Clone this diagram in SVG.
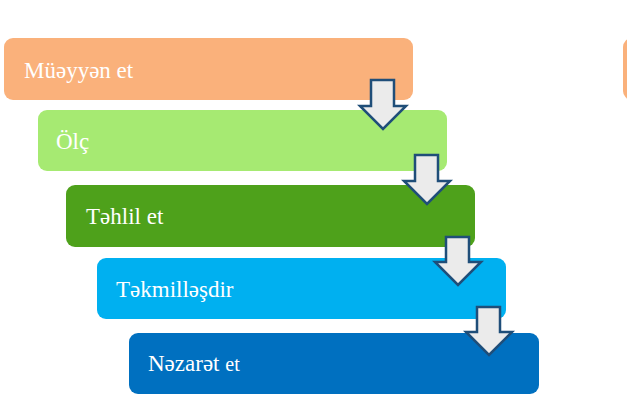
<svg xmlns="http://www.w3.org/2000/svg" width="627" height="405" viewBox="0 0 627 405">
<style>
text{font-family:"Liberation Serif","Times New Roman",serif;font-size:23px;fill:#fff}
.ar{fill:#ebebeb;stroke:#1f4e79;stroke-width:2.5;stroke-linejoin:miter}
</style>
<rect width="627" height="405" fill="#fff"/>
<g id="n1"><rect x="4" y="38" width="409" height="62" rx="9" fill="#fab17b"/><text x="24" y="78">Müəyyən et</text></g>
<g id="n1b"><rect x="623" y="38" width="20" height="62" rx="9" fill="#fab17b"/></g>
<g id="n2"><rect x="38" y="110" width="409" height="61" rx="9" fill="#a6ea72"/><text x="56" y="149">Ölç</text></g>
<g id="n3"><rect x="66" y="185" width="409" height="62" rx="9" fill="#4ea11b"/><text x="86" y="224">Təhlil et</text></g>
<g id="n4"><rect x="97" y="258" width="409" height="61" rx="9" fill="#00b0f0"/><text x="116" y="297">Təkmilləşdir</text></g>
<g id="n5"><rect x="129" y="333" width="410" height="61" rx="9" fill="#0070c0"/><text x="148" y="371">Nəzarət <tspan font-size="20">et</tspan></text></g>
<g id="connectors">
<path class="ar" d="M371,80 H394 V106 H406 L383,129 L360,106 H371 Z"/>
<path class="ar" d="M415,155 H438 V181 H450 L427,204 L404,181 H415 Z"/>
<path class="ar" d="M446,237 H469 V262 H481 L458,285 L435,262 H446 Z"/>
<path class="ar" d="M477,307 H500 V332 H512 L489,355 L466,332 H477 Z"/>
</g>
</svg>
